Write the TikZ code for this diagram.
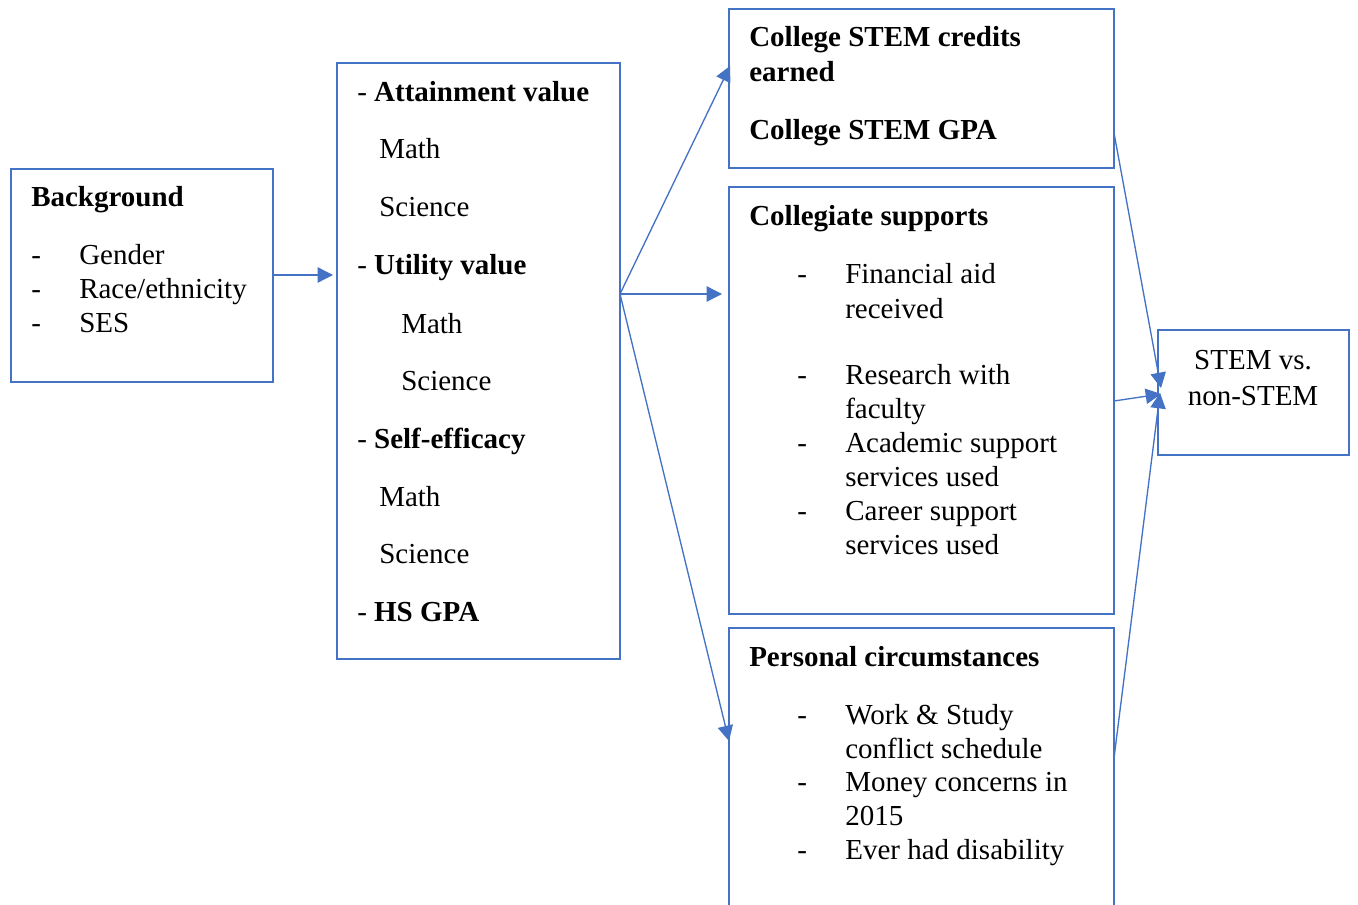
\documentclass[tikz,border=0pt]{standalone}
\usepackage{fontspec}
\setmainfont{Liberation Serif}
\usetikzlibrary{arrows.meta,fit}
\definecolor{boxblue}{HTML}{4472C4}

\begin{document}
\begin{tikzpicture}[x=0.75pt,y=-0.75pt,
  frame/.style={draw=boxblue, line width=1.5pt, inner sep=0pt, outer sep=0pt},
  link/.style={draw=boxblue, line width=1pt, -{Triangle[length=11.5pt,width=11.5pt]}},
  txt/.style={anchor=base west, inner sep=0pt, yshift=-1.5pt, font=\fontsize{21.75}{25.5}\selectfont},
  ctxt/.style={anchor=base, inner sep=0pt, yshift=-1.5pt, font=\fontsize{21.75}{25.5}\selectfont},
  hd/.style={txt, font=\fontsize{21.75}{25.5}\selectfont\bfseries}]

\clip (0,0) rectangle (1358,905);
\fill[white] (0,0) rectangle (1358,905);

% frames
\node[frame, fit={(11,169) (273,382)}] (bg) {};
\node[frame, fit={(337,63) (620,659)}] (mid) {};
\node[frame, fit={(729,9) (1114,168)}] (out) {};
\node[frame, fit={(729,187) (1114,614)}] (sup) {};
\node[frame, fit={(729,628) (1114,960)}] (pers) {};
\node[frame, fit={(1158,330) (1349,455)}] (stem) {};

% background
\node[hd] (bgT) at (31,205) {Background};
\node[txt] (bgD1) at (31,263) {-};
\node[txt] (bgL1) at (79,263) {Gender};
\node[txt] (bgD2) at (31,297) {-};
\node[txt] (bgL2) at (79,297) {Race/ethnicity};
\node[txt] (bgD3) at (31,330) {-};
\node[txt] (bgL3) at (79,330) {SES};

% attitudes and achievement
\node[txt] (mA) at (357,100) {- \textbf{Attainment value}};
\node[txt] (mA1) at (379,157) {Math};
\node[txt] (mA2) at (379,215) {Science};
\node[txt] (mU) at (357,273) {- \textbf{Utility value}};
\node[txt] (mU1) at (401,331) {Math};
\node[txt] (mU2) at (401,388) {Science};
\node[txt] (mS) at (357,446) {- \textbf{Self-efficacy}};
\node[txt] (mS1) at (379,504) {Math};
\node[txt] (mS2) at (379,561) {Science};
\node[txt] (mH) at (357,619) {- \textbf{HS GPA}};

% college outcomes
\node[hd] (o1) at (749,45) {College STEM credits};
\node[hd] (o2) at (749,80) {earned};
\node[hd] (o3) at (749,138) {College STEM GPA};

% collegiate supports
\node[hd] (sT) at (749,224) {Collegiate supports};
\node[txt] (sD1) at (797,282) {-};
\node[txt] (s1a) at (845,282) {Financial aid};
\node[txt] (s1b) at (845,316) {received};
\node[txt] (sD2) at (797,382) {-};
\node[txt] (s2a) at (845,382) {Research with};
\node[txt] (s2b) at (845,416) {faculty};
\node[txt] (sD3) at (797,450) {-};
\node[txt] (s3a) at (845,450) {Academic support};
\node[txt] (s3b) at (845,484) {services used};
\node[txt] (sD4) at (797,518) {-};
\node[txt] (s4a) at (845,518) {Career support};
\node[txt] (s4b) at (845,552) {services used};

% personal circumstances
\node[hd] (pT) at (749,664) {Personal circumstances};
\node[txt] (pD1) at (797,722) {-};
\node[txt] (p1a) at (845,722) {Work \& Study};
\node[txt] (p1b) at (845,756) {conflict schedule};
\node[txt] (pD2) at (797,789) {-};
\node[txt] (p2a) at (845,789) {Money concerns in};
\node[txt] (p2b) at (845,823) {2015};
\node[txt] (pD3) at (797,857) {-};
\node[txt] (p3a) at (845,857) {Ever had disability};

% outcome
\node[ctxt] (st1) at (1253,367) {STEM vs.};
\node[ctxt] (st2) at (1253,403) {non-STEM};

% connector ends
\coordinate (bgOut) at (273,275);
\coordinate (midIn) at (333,275);
\coordinate (midOut) at (620,294);
\coordinate (outIn) at (730,66);
\coordinate (supIn) at (722,294);
\coordinate (persIn) at (729,741);
\coordinate (outOut) at (1114,133);
\coordinate (supOut) at (1114,401);
\coordinate (persOut) at (1114,758);
\coordinate (stemInA) at (1161,388);
\coordinate (stemInB) at (1161,394);
\coordinate (stemInC) at (1160,393);

\draw[link] (bgOut) -- (midIn);
\draw[link] (midOut) -- (outIn);
\draw[link] (midOut) -- (supIn);
\draw[link] (midOut) -- (persIn);
\draw[link] (outOut) -- (stemInA);
\draw[link] (supOut) -- (stemInB);
\draw[link] (persOut) -- (stemInC);
\end{tikzpicture}
\end{document}
